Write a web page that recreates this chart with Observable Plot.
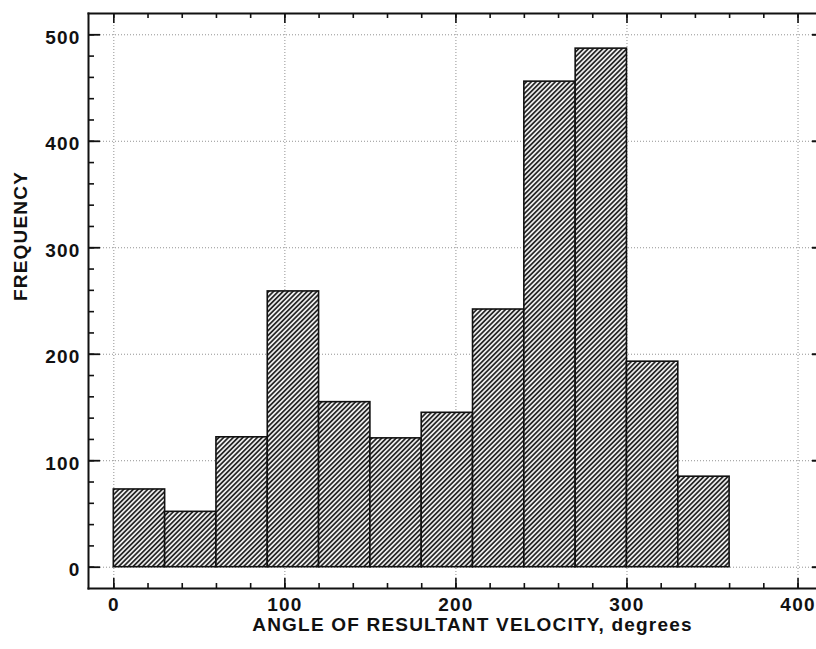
<!DOCTYPE html>
<html>
<head>
<meta charset="utf-8">
<script src="https://cdn.jsdelivr.net/npm/d3@7"></script>
<script src="https://cdn.jsdelivr.net/npm/@observablehq/plot@0.6"></script>
<style>
  html, body { margin: 0; padding: 0; background: #fff; overflow: hidden; }
</style>
</head>
<body>
<div id="chart"></div>
<script>
// ---- data ----
const binStarts = [0, 30, 60, 90, 120, 150, 180, 210, 240, 270, 300, 330];
const binEnds   = [30, 60, 90, 120, 150, 180, 210, 240, 270, 300, 330, 360];
const frequency = [73, 52, 122, 259, 155, 121, 145, 242, 456, 487, 193, 85];
const xMajorTicks = [0, 100, 200, 300, 400];
const xMinorTicks = [0, 20, 40, 60, 80, 100, 120, 140, 160, 180, 200, 220, 240, 260, 280, 300, 320, 340, 360, 380, 400];
const yMajorTicks = [0, 100, 200, 300, 400, 500];
const yMinorTicks = [0, 20, 40, 60, 80, 100, 120, 140, 160, 180, 200, 220, 240, 260, 280, 300, 320, 340, 360, 380, 400, 420, 440, 460, 480, 500];
const xLabel = "ANGLE OF RESULTANT VELOCITY, degrees";
const yLabel = "FREQUENCY";

const bins = binStarts.map((s, i) => ({x1: s, x2: binEnds[i], y: frequency[i]}));

const W = 816, H = 649;
const mL = 88, mR = 0, mT = 13, mB = 61;
const fw = W - mL - mR, fh = H - mT - mB;

const grid = {stroke: "#777", strokeOpacity: 0.8, strokeWidth: 1, strokeDasharray: "1,2"};

const svg = Plot.plot({
  width: W, height: H,
  marginLeft: mL, marginRight: mR, marginTop: mT, marginBottom: mB,
  style: {fontFamily: "'Liberation Sans', Arial, sans-serif", fontWeight: "bold", fontSize: "19px", letterSpacing: "1.2px", color: "#111", background: "#fff"},
  x: {domain: [-14.8, 410.8], label: null},
  y: {domain: [-20, 520], label: null},
  marks: [
    // grid
    Plot.ruleX(xMajorTicks, {x: d => d, ...grid}),
    Plot.ruleY(yMajorTicks, {y: d => d, ...grid}),
    // bars
    Plot.rectY(bins, {x1: "x1", x2: "x2", y: "y", fill: "url(#hatch)", stroke: "#111", strokeWidth: 1.6}),
    // inner ticks, bottom & top
    Plot.tickX(xMinorTicks, {x: d => d, insetTop: fh - 5, stroke: "#111", strokeWidth: 1.6}),
    Plot.tickX(xMajorTicks, {x: d => d, insetTop: fh - 10, stroke: "#111", strokeWidth: 1.6}),
    Plot.tickX(xMinorTicks, {x: d => d, insetBottom: fh - 5, stroke: "#111", strokeWidth: 1.6}),
    Plot.tickX(xMajorTicks, {x: d => d, insetBottom: fh - 10, stroke: "#111", strokeWidth: 1.6}),
    // inner ticks, left & right
    Plot.tickY(yMinorTicks, {y: d => d, insetRight: fw - 6, stroke: "#111", strokeWidth: 1.6}),
    Plot.tickY(yMajorTicks, {y: d => d, insetRight: fw - 12, stroke: "#111", strokeWidth: 1.8}),
    Plot.tickY(yMajorTicks, {y: d => d, insetLeft: fw - 4, stroke: "#111", strokeWidth: 2}),
    // frame edges
    Plot.frame({anchor: "left", stroke: "#111", strokeWidth: 2}),
    Plot.frame({anchor: "top", stroke: "#111", strokeWidth: 2}),
    Plot.frame({anchor: "bottom", stroke: "#111", strokeWidth: 2}),
    // tick labels
    Plot.axisX({ticks: xMajorTicks, tickSize: 0, tickPadding: 9, tickFormat: d => String(d)}),
    Plot.axisY({ticks: yMajorTicks, tickSize: 0, tickPadding: 8, dy: 3, tickFormat: d => String(d)}),
    // axis titles
    Plot.text([xLabel], {text: d => d, frameAnchor: "bottom", lineAnchor: "middle", dx: 20, dy: 36}),
    Plot.text([yLabel], {text: d => d, frameAnchor: "left", rotate: -90, dx: -68})
  ]
});

const ns = "http://www.w3.org/2000/svg";
const defs = document.createElementNS(ns, "defs");
const pat = document.createElementNS(ns, "pattern");
pat.setAttribute("id", "hatch");
pat.setAttribute("patternUnits", "userSpaceOnUse");
pat.setAttribute("width", "3.4");
pat.setAttribute("height", "3.4");
pat.setAttribute("patternTransform", "rotate(45)");
const bg = document.createElementNS(ns, "rect");
bg.setAttribute("width", "3.4"); bg.setAttribute("height", "3.4"); bg.setAttribute("fill", "#ececec");
const ln = document.createElementNS(ns, "line");
ln.setAttribute("x1", "1.7"); ln.setAttribute("x2", "1.7");
ln.setAttribute("y1", "0"); ln.setAttribute("y2", "3.4");
ln.setAttribute("stroke", "#1a1a1a"); ln.setAttribute("stroke-width", "1.6");
pat.appendChild(bg); pat.appendChild(ln);
defs.appendChild(pat);
svg.insertBefore(defs, svg.firstChild);

document.getElementById("chart").appendChild(svg);
</script>
</body>
</html>
